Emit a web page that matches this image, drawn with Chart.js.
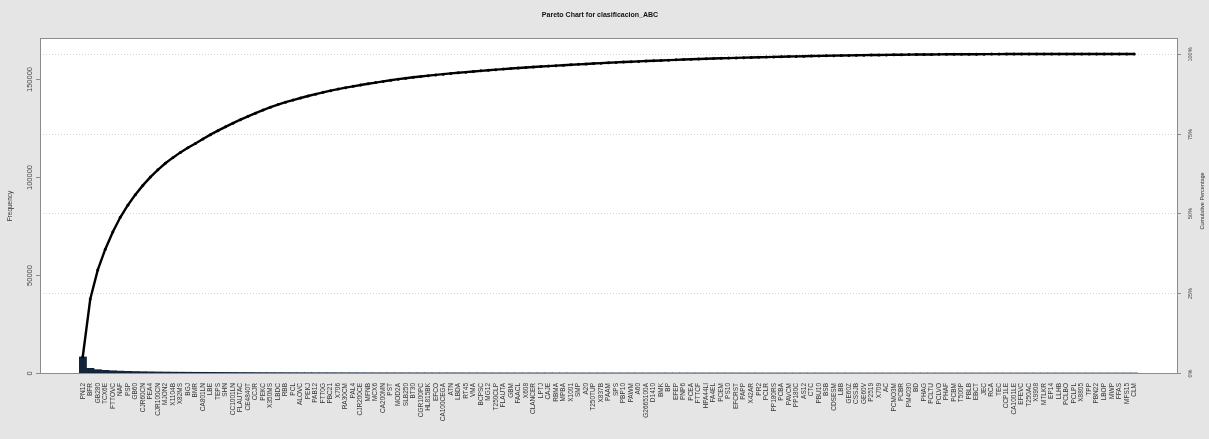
<!DOCTYPE html>
<html>
<head>
<meta charset="utf-8">
<script src="https://cdn.jsdelivr.net/npm/chart.js@4/dist/chart.umd.min.js"></script>
<style>
  html, body { margin: 0; padding: 0; background: #e5e5e5; }
  canvas { display: block; }
</style>
</head>
<body>
<canvas id="pareto" width="1209" height="439"></canvas>
<script>
// ─── DONNÉES ──────────────────────────────────────────────────────────────
const categories = ['PN12','BFR','GB280','TCX6E','FTTOVC','NAF','PSP','GB60','CJR60CN','PEA4',
  'CJR100CN','MJON2','X1104B','X82MS','BGJ','BMR','CA801LN','LBE','TEPS','SHN',
  'CC1001LN','FLAUTAC','CE4840T','CCJR','PEKC','X350MS','LBDC','RBB','PCL','ALOVC',
  'PEKJ','PAB12','FTT0G','PBC21','X706','RA30CM','PAL4','CJR200CE','MFNB','MCX6',
  'CA200MN','PST','MOD2A','SLB250','BT30','CGR100PC','HL815BK','EFCO','CA100CEGA','ATN',
  'LBDA','RT45','VMA','BCPSC','MG12','T250CLP','FLAUTA','GBM','FAACL','X608',
  'CLANCER','LPTJ','CAJE','RBMA','MPBA','X1001','SMP','A20','T250TUP','X837B',
  'PAAM','SPS','PBP10','PAWM','A60','G2665100A','D1410','BMK','BP','EFEP',
  'PNP6','PCEA','FTTCF','HPA44LI','FA4EL','PCEM','PS10','EFCRST','PAPP','X42AR',
  'PR2','PCLR','PP180RS','PCBA','PAVCM','PP180C','AS12','CTC','PBU10','BSB',
  'CDSESM','LBB','GE60Z','CSSJB','GE60V','P2519','X709','AC','PCMO3M','PCBR',
  'PM4030','BD','PHAG','PCLTU','PCLVO','PHAF','PCBM','T500P','PBLB','EBCT',
  'JEC','RCA','TEC','CCP1LE','CA1001LE','EFEVC','T250AC','X9908','MTLKR','EP14',
  'LLHB','PCLBO','PCLPL','X8805','TPP','PBN22','LBOP','MWP','FFAS','MFS15','CLM'];

const frequency = [8200, 2400, 1700, 1350, 1150, 980, 850, 760, 680, 610,
  550, 500, 460, 430, 400, 380, 360, 340, 320, 300,
  280, 260, 245, 230, 215, 200, 190, 180, 170, 160,
  152, 145, 138, 131, 125, 119, 113, 108, 103, 98,
  94, 90, 86, 82, 78, 75, 72, 69, 66, 63,
  60, 58, 56, 54, 52, 50, 48, 46, 44, 42,
  40, 38, 36, 35, 34, 33, 32, 31, 30, 29,
  28, 27, 26, 25, 24, 23, 22, 21, 20, 19,
  18, 17, 16, 15, 15, 14, 14, 13, 13, 12,
  12, 11, 11, 10, 10, 9, 9, 8, 8, 8,
  7, 7, 7, 6, 6, 6, 5, 5, 5, 5,
  4, 4, 4, 4, 3, 3, 3, 3, 3, 2,
  2, 2, 2, 2, 2, 2, 1, 1, 1, 1,
  1, 1, 1, 1, 1, 1, 1, 1, 1, 1, 1];

// pourcentage cumulé
const cumulativePct = [5.1, 23.2, 32.3, 38.8, 44.2, 48.8, 52.6, 55.9, 58.8, 61.4,
  63.7, 65.75, 67.5, 69.15, 70.6, 71.95, 73.35, 74.7, 75.95, 77.15,
  78.3, 79.4, 80.45, 81.45, 82.4, 83.3, 84.15, 84.87, 85.55, 86.2,
  86.82, 87.4, 87.96, 88.5, 88.98, 89.43, 89.85, 90.26, 90.65, 91.03,
  91.4, 91.76, 92.1, 92.4, 92.68, 92.94, 93.19, 93.43, 93.67, 93.9,
  94.1, 94.3, 94.5, 94.7, 94.9, 95.08, 95.25, 95.42, 95.58, 95.74,
  95.9, 96.05, 96.2, 96.34, 96.48, 96.61, 96.74, 96.87, 97, 97.12,
  97.24, 97.35, 97.46, 97.57, 97.67, 97.77, 97.87, 97.97, 98.06, 98.15,
  98.24, 98.32, 98.4, 98.48, 98.56, 98.63, 98.7, 98.77, 98.84, 98.9,
  98.96, 99.02, 99.08, 99.14, 99.19, 99.24, 99.29, 99.34, 99.39, 99.43,
  99.47, 99.51, 99.55, 99.59, 99.62, 99.65, 99.68, 99.71, 99.74, 99.77,
  99.79, 99.81, 99.83, 99.85, 99.87, 99.89, 99.9, 99.91, 99.92, 99.93,
  99.94, 99.95, 99.96, 99.97, 99.98, 99.98, 99.99, 99.99, 100, 100,
  100, 100, 100, 100, 100, 100, 100, 100, 100, 100, 100];

const freqTicks = [0, 50000, 100000, 150000];
const pctTicks = [0, 25, 50, 75, 100];
const totalCount = 162950;   // niveau 100 %

// ─── CADRE ────────────────────────────────────────────────────────────────
const FRAME = { left: 40, top: 38, right: 1177, bottom: 373 };
const FONT = "'Liberation Sans', Arial, sans-serif";

function rotText(ctx, txt, x, y, size, color, bold) {
    ctx.save();
    ctx.translate(x, y);
    ctx.rotate(-Math.PI / 2);
    ctx.font = (bold ? 'bold ' : '') + size + 'px ' + FONT;
    ctx.fillStyle = color;
    ctx.textAlign = 'center';
    ctx.textBaseline = 'middle';
    ctx.fillText(txt, 0, 0);
    ctx.restore();
}

const paretoFrame = {
    id: 'paretoFrame',
    beforeDraw(chart) {
        const c = chart.ctx;
        c.save();
        c.fillStyle = '#e5e5e5';
        c.fillRect(0, 0, chart.width, chart.height);
        c.fillStyle = '#ffffff';
        c.fillRect(FRAME.left, FRAME.top, FRAME.right - FRAME.left, FRAME.bottom - FRAME.top);
        c.restore();
    },
    beforeDatasetsDraw(chart) {
        const c = chart.ctx, yp = chart.scales.yPct;
        c.save();
        c.strokeStyle = '#d4d4d4';
        c.lineWidth = 1;
        c.setLineDash([1, 2]);
        pctTicks.forEach(p => {
            const y = Math.round(yp.getPixelForValue(p)) + 0.5;
            c.beginPath();
            c.moveTo(FRAME.left, y);
            c.lineTo(FRAME.right, y);
            c.stroke();
        });
        c.restore();
    },
    afterDraw(chart) {
        const c = chart.ctx, yf = chart.scales.yFreq, yp = chart.scales.yPct;
        c.save();
        c.strokeStyle = '#8c8c8c';
        c.lineWidth = 1;
        c.strokeRect(FRAME.left + 0.5, FRAME.top + 0.5, FRAME.right - FRAME.left, FRAME.bottom - FRAME.top);

        // axe gauche
        freqTicks.forEach(v => {
            const y = Math.round(yf.getPixelForValue(v)) + 0.5;
            c.beginPath(); c.moveTo(FRAME.left - 4, y); c.lineTo(FRAME.left, y); c.stroke();
            rotText(c, String(v), 30, y, 7.5, '#444', false);
        });
        // axe droit
        pctTicks.forEach(p => {
            const y = Math.round(yp.getPixelForValue(p)) + 0.5;
            c.beginPath(); c.moveTo(FRAME.right + 1, y); c.lineTo(FRAME.right + 4, y); c.stroke();
            rotText(c, p + '%', 1190, y, 5.5, '#444', false);
        });
        c.restore();

        rotText(c, 'Frequency', 10, 206, 6.5, '#333', false);
        rotText(c, 'Cumulative Percentage', 1202, 201, 5.5, '#333', false);

        c.save();
        c.font = 'bold 7px ' + FONT;
        c.fillStyle = '#111';
        c.textAlign = 'center';
        c.textBaseline = 'middle';
        c.fillText('Pareto Chart for clasificacion_ABC', 600, 15);
        c.restore();
    }
};

// ─── GRAPHIQUE ────────────────────────────────────────────────────────────
const ctx = document.getElementById('pareto').getContext('2d');

new Chart(ctx, {
    data: {
        labels: categories,
        datasets: [
            {
                type: 'line',
                label: 'Cumulative Percentage',
                data: cumulativePct,
                yAxisID: 'yPct',
                borderColor: '#000',
                borderWidth: 2.4,
                pointRadius: 1.5,
                pointBackgroundColor: '#000',
                pointBorderWidth: 0,
                tension: 0,
                order: 0
            },
            {
                type: 'bar',
                label: 'Frequency',
                data: frequency,
                yAxisID: 'yFreq',
                backgroundColor: '#12233a',
                borderWidth: 0,
                barPercentage: 1,
                categoryPercentage: 1,
                order: 1
            }
        ]
    },
    options: {
        responsive: false,
        animation: false,
        layout: { padding: { left: 79, right: 1209 - 1138, top: FRAME.top, bottom: 0 } },
        plugins: { legend: { display: false }, tooltip: { enabled: false } },
        scales: {
            x: {
                type: 'category',
                offset: true,
                grid: { display: false },
                border: { display: false },
                afterFit: s => { s.height = 439 - FRAME.bottom; },
                ticks: {
                    autoSkip: false,
                    minRotation: 90,
                    maxRotation: 90,
                    padding: 2,
                    color: '#333',
                    font: { size: 6.5, family: FONT }
                }
            },
            yFreq: {
                type: 'linear',
                position: 'left',
                display: false,
                min: 0,
                max: totalCount * 1.05
            },
            yPct: {
                type: 'linear',
                position: 'right',
                display: false,
                min: 0,
                max: 105
            }
        }
    },
    plugins: [paretoFrame]
});
</script>
</body>
</html>
